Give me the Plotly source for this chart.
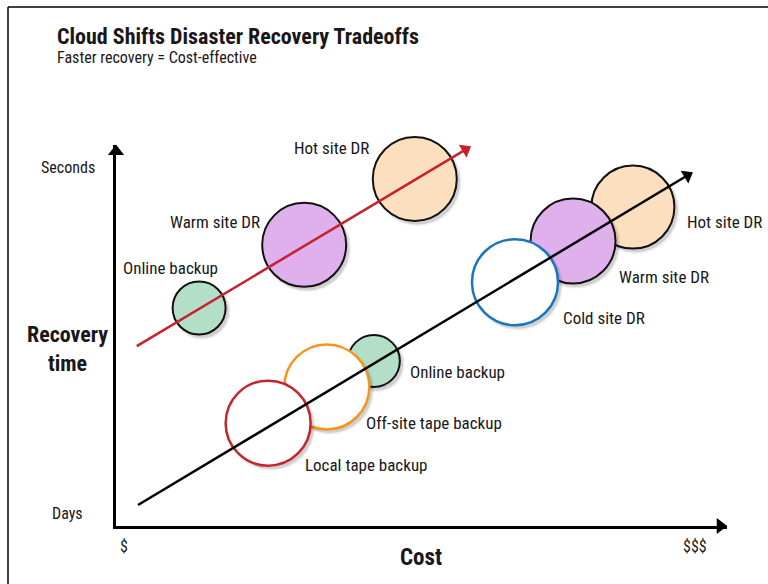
import plotly.graph_objects as go

# ---------------- data (conceptual units, 0-100 on each axis) ----------------
cloud_labels = ["Online backup", "Warm site DR", "Hot site DR"]
cloud_cost = [13.6, 30.8, 48.9]
cloud_recovery = [57.2, 73.8, 91.1]

trad_labels = ["Local tape backup", "Off-site tape backup", "Online backup",
               "Cold site DR", "Warm site DR", "Hot site DR"]
trad_cost = [24.9, 34.5, 42.2, 65.3, 74.8, 84.6]
trad_recovery = [27.0, 36.5, 43.3, 64.0, 74.8, 83.7]

cloud_trend_cost = [3.4, 57.2]
cloud_trend_recovery = [47.2, 98.8]
trad_trend_cost = [3.6, 93.5]
trad_trend_recovery = [5.5, 92.0]

x_tick_vals = [1.3, 94.8]
x_tick_text = ["$", "$$$"]
y_tick_vals = [3.4, 94.2]
y_tick_text = ["Days", "Seconds"]

title_text = "Cloud Shifts Disaster Recovery Tradeoffs"
subtitle_text = "Faster recovery = Cost-effective"

# ---------------- styles ----------------
W, H = 768, 584
L, R, T, B = 116, 727, 145, 526   # plot frame in pixels
FONT = "Liberation Sans Narrow, Roboto Condensed, DejaVu Sans Condensed, Arial Narrow, Liberation Sans, sans-serif"
TXT = "#1a1718"
GREEN, PURPLE, PEACH = "#b3dfc8", "#dfb0ec", "#fcdfbf"

cloud_style = dict(size=[53, 84, 84], fill=[GREEN, PURPLE, PEACH],
                   line=["#111111"] * 3, lw=[2, 2, 2],
                   dx=[-29, -89, -83], dy=[40, 23, 31], anchor="center")
trad_style = dict(size=[85, 85, 52, 86, 85, 83],
                  fill=["white", "white", GREEN, "white", PURPLE, PEACH],
                  line=["#c1272d", "#f7941d", "#111111", "#1b75bb", "#111111", "#111111"],
                  lw=[2.5, 2.5, 2, 2.5, 2, 2],
                  dx=[35, 37, 34, 46, 44, 52], dy=[-42, -36, -11, -36, -36, -15], anchor="left")


def px(x):
    return (x - L) / (R - L)


def py(y):
    return (B - y) / (B - T)


fig = go.Figure()


def add_bubbles(costs, recs, st):
    # draw in reverse so lower-left bubbles sit on top
    for i in reversed(range(len(costs))):
        for grow, alpha in [(4, 0.07), (1, 0.12)]:
            fig.add_trace(go.Scatter(
                x=[costs[i] + 0.45], y=[recs[i] - 0.8], mode="markers",
                marker=dict(size=st["size"][i] + grow, color=f"rgba(0,0,0,{alpha})",
                            line=dict(width=0)),
                hoverinfo="skip", showlegend=False, cliponaxis=False))
        fig.add_trace(go.Scatter(
            x=[costs[i]], y=[recs[i]], mode="markers",
            marker=dict(size=st["size"][i], color=st["fill"][i],
                        line=dict(color=st["line"][i], width=st["lw"][i])),
            showlegend=False, cliponaxis=False))


def add_labels(costs, recs, labels, st):
    for i, lab in enumerate(labels):
        fig.add_annotation(x=costs[i], y=recs[i], xref="x", yref="y", text=lab,
                           showarrow=False, xshift=st["dx"][i], yshift=st["dy"][i],
                           xanchor=st["anchor"], yanchor="middle",
                           font=dict(family=FONT, size=17, color=TXT))


def add_arrow_line(xs, ys, color, width, head):
    fig.add_trace(go.Scatter(
        x=xs, y=ys, mode="lines+markers",
        line=dict(color=color, width=width),
        marker=dict(symbol="triangle-up", size=[0, head], color=color, opacity=1,
                    angleref="previous", line=dict(width=0)),
        showlegend=False, cliponaxis=False, hoverinfo="skip"))


add_bubbles(cloud_cost, cloud_recovery, cloud_style)
add_bubbles(trad_cost, trad_recovery, trad_style)
add_arrow_line(cloud_trend_cost, cloud_trend_recovery, "#c8202e", 2.5, 13)
add_arrow_line(trad_trend_cost, trad_trend_recovery, "#000000", 2.5, 13)
add_labels(cloud_cost, cloud_recovery, cloud_labels, cloud_style)
add_labels(trad_cost, trad_recovery, trad_labels, trad_style)

# axis arrowheads
fig.add_trace(go.Scatter(x=[0], y=[98.3], mode="markers",
                         marker=dict(symbol="triangle-up", size=14, color="black"),
                         showlegend=False, cliponaxis=False, hoverinfo="skip"))
fig.add_trace(go.Scatter(x=[98.9], y=[0], mode="markers",
                         marker=dict(symbol="triangle-right", size=14, color="black"),
                         showlegend=False, cliponaxis=False, hoverinfo="skip"))

# axis texts
for val, txt in zip(x_tick_vals, x_tick_text):
    fig.add_annotation(x=val, y=py(546), xref="x", yref="paper", text=txt, showarrow=False,
                       xanchor="center", yanchor="middle",
                       font=dict(family=FONT, size=16, color=TXT))
for val, txt in zip(y_tick_vals, y_tick_text):
    fig.add_annotation(x=px(67.5), y=val, xref="paper", yref="y", text=txt, showarrow=False,
                       xanchor="center", yanchor="middle",
                       font=dict(family=FONT, size=16, color=TXT))

fig.add_annotation(x=px(421), y=py(557), xref="paper", yref="paper", text="<b>Cost</b>",
                   showarrow=False, xanchor="center", yanchor="middle",
                   font=dict(family=FONT, size=23, color=TXT))
fig.add_annotation(x=px(67), y=py(349), xref="paper", yref="paper", text="<b>Recovery</b>",
                   showarrow=False, xanchor="center", yanchor="bottom",
                   font=dict(family=FONT, size=22, color=TXT))
fig.add_annotation(x=px(67), y=py(349), xref="paper", yref="paper", text="<b>time</b>",
                   showarrow=False, xanchor="center", yanchor="top",
                   font=dict(family=FONT, size=22, color=TXT))
fig.add_annotation(x=px(55), y=py(36), xref="paper", yref="paper", text=f"<b>{title_text}</b>",
                   showarrow=False, xanchor="left", yanchor="middle",
                   font=dict(family=FONT, size=22, color=TXT))
fig.add_annotation(x=px(55), y=py(58), xref="paper", yref="paper", text=subtitle_text,
                   showarrow=False, xanchor="left", yanchor="middle",
                   font=dict(family=FONT, size=16, color=TXT))

# frame border (top and left)
fig.add_shape(type="line", xref="paper", yref="paper", x0=px(8), x1=px(W), y0=py(7), y1=py(7),
              line=dict(color="black", width=1.5))
fig.add_shape(type="line", xref="paper", yref="paper", x0=px(8), x1=px(8), y0=py(7), y1=py(H),
              line=dict(color="black", width=1.5))

fig.update_xaxes(range=[0, 100], showgrid=False, zeroline=False, showticklabels=False,
                 showline=True, linecolor="black", linewidth=2.5, ticks="")
fig.update_yaxes(range=[0, 100], showgrid=False, zeroline=False, showticklabels=False,
                 showline=True, linecolor="black", linewidth=2.5, ticks="")

fig.update_layout(width=W, height=H, margin=dict(l=L, r=W - R, t=T, b=H - B),
                  plot_bgcolor="white", paper_bgcolor="white", showlegend=False,
                  font=dict(family=FONT, color=TXT))

fig.write_html("out.html")
